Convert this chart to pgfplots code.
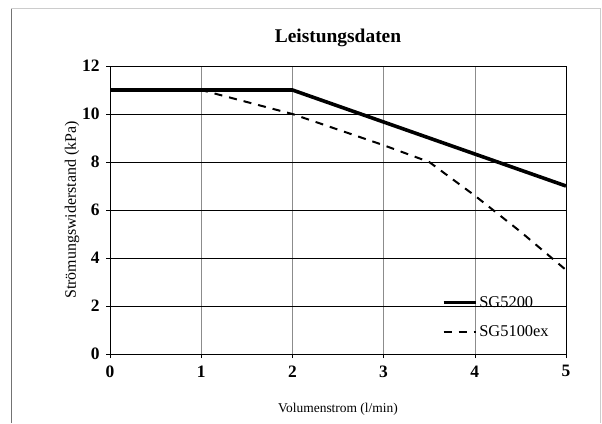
\documentclass[border=0pt]{standalone}
\usepackage{fontspec}
\setmainfont{Liberation Serif}
\usepackage{pgfplots}
\pgfplotsset{compat=1.18}
\begin{document}
\begin{tikzpicture}[x=1bp,y=1bp]
\useasboundingbox (0,0) rectangle (602,423);
\fill[white] (0,0) rectangle (602,423);
\draw[black!55, line width=1bp] (11,0) -- (11,414);
\draw[black!20, line width=1bp] (11,414) -- (600,414) -- (600,0);
\node[font=\fontsize{19.5}{22}\selectfont\bfseries] at (338,385) {Leistungsdaten};
\begin{axis}[
  at={(110bp,69bp)}, anchor=south west,
  scale only axis, width=456bp, height=288bp,
  xmin=0, xmax=5, ymin=0, ymax=12,
  xtick={0,1,2,3,4,5}, ytick={0,2,4,6,8,10,12},
  tick align=outside, major tick length=4bp,
  tick style={black, line width=0.6bp},
  xtick pos=bottom, ytick pos=left,
  axis line style={black, line width=0.8bp},
  grid=major,
  x grid style={black!45, line width=0.5bp},
  y grid style={black, line width=0.7bp},
  /pgf/number format/assume math mode=true,
  ticklabel style={font=\fontsize{17.5}{19}\selectfont\bfseries},
  xticklabel style={yshift=-4bp},
  yticklabel style={xshift=-3bp},
  xlabel={Volumenstrom (l/min)},
  ylabel={Strömungswiderstand (kPa)},
  xlabel style={font=\fontsize{13.5}{15}\selectfont, yshift=-19bp},
  ylabel style={font=\fontsize{16}{18}\selectfont, yshift=-4bp},
  legend style={draw=none, fill=none, at={(0.727,0.208)}, anchor=north west,
    font=\fontsize{16.5}{18}\selectfont, row sep=13bp, inner sep=0pt,
    /tikz/every even column/.append style={column sep=0bp}},
  legend cell align=left,
  legend image code/.code={\draw[#1] (0bp,0bp) -- (32bp,0bp);},
]
\addplot[black, line width=3.6bp] coordinates {(0,11) (2,11) (5,7)};
\addlegendentry{SG5200}
\addplot[black, line width=2bp, dash pattern=on 8bp off 7bp] coordinates {(0,11) (1,11) (2,10) (3,8.7) (3.5,8) (4,6.6) (4.5,5.1) (5,3.5)};
\addlegendentry{SG5100ex}
\end{axis}
\end{tikzpicture}
\end{document}
